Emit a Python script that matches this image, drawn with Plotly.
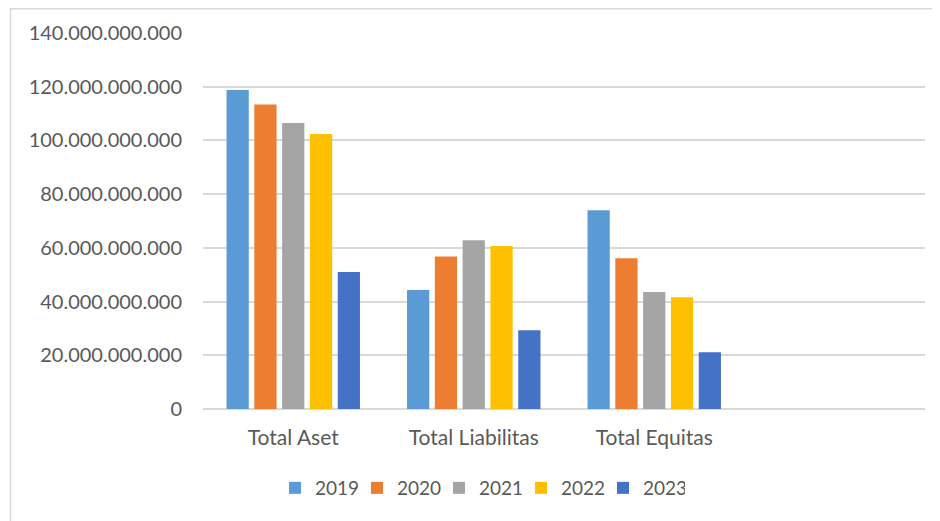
import plotly.graph_objects as go

categories = ["Total Aset", "Total Liabilitas", "Total Equitas"]
years = ["2019", "2020", "2021", "2022", "2023"]
values_2019 = [118.8e9, 44.3e9, 74.0e9]
values_2020 = [113.4e9, 56.8e9, 56.1e9]
values_2021 = [106.5e9, 62.8e9, 43.6e9]
values_2022 = [102.4e9, 60.7e9, 41.6e9]
values_2023 = [51.0e9, 29.3e9, 21.1e9]
series = [values_2019, values_2020, values_2021, values_2022, values_2023]
colors = ["#5B9BD5", "#ED7D31", "#A5A5A5", "#FFC000", "#4472C4"]

tick_vals = [0, 20e9, 40e9, 60e9, 80e9, 100e9, 120e9, 140e9]
tick_text = ["0", "20.000.000.000", "40.000.000.000", "60.000.000.000",
             "80.000.000.000", "100.000.000.000", "120.000.000.000", "140.000.000.000"]

FONT = "Lato"
GREY = "#595959"

# page body has an 8px default margin; compensate in figure margins
OFF = 8
W, H = 940, 521
L, T = 203 - OFF, 33 - OFF
R = W - (925 - OFF)
B = H - (409 - OFF)

fig = go.Figure()
for yr, vals, col in zip(years, series, colors):
    fig.add_trace(go.Bar(name=yr, x=categories, y=vals, marker=dict(color=col, line=dict(width=0))))

plot_w = W - L - R
plot_h = H - T - B

fig.update_layout(
    width=W, height=H,
    margin=dict(l=L, r=R, t=T, b=B, autoexpand=False),
    paper_bgcolor="white", plot_bgcolor="white",
    barmode="group", bargap=0.23, bargroupgap=0.2,
    font=dict(family=FONT, color=GREY, size=19),
    showlegend=True,
    legend=dict(orientation="h", xref="container", yref="container",
                x=(480 - OFF) / W, y=1 - (488 - OFF) / H, xanchor="center", yanchor="middle",
                font=dict(family=FONT, size=19, color=GREY),
                itemwidth=30, entrywidth=37, entrywidthmode="pixels", traceorder="normal"),
    xaxis=dict(type="category", range=[-0.5, 3.5], showgrid=False, showline=False,
               ticks="", tickfont=dict(family=FONT, size=21, color=GREY),
               ticklabelstandoff=14, zeroline=False, fixedrange=True),
    yaxis=dict(range=[0, 140e9], tickvals=tick_vals, ticktext=tick_text,
               showgrid=True, gridcolor="#D9D9D9", gridwidth=1.5,
               zeroline=True, zerolinecolor="#D9D9D9", zerolinewidth=1.5,
               showline=False, ticks="", ticklabelstandoff=20,
               tickfont=dict(family=FONT, size=20, color=GREY)),
    shapes=[dict(type="rect", xref="paper", yref="paper",
                 x0=(10.5 - 203) / plot_w, x1=2, y0=-0.5, y1=(plot_h + T - 0.75) / plot_h,
                 line=dict(color="#D9D9D9", width=1.5), fillcolor="rgba(0,0,0,0)", layer="below")],
)

fig.write_html("out.html")
